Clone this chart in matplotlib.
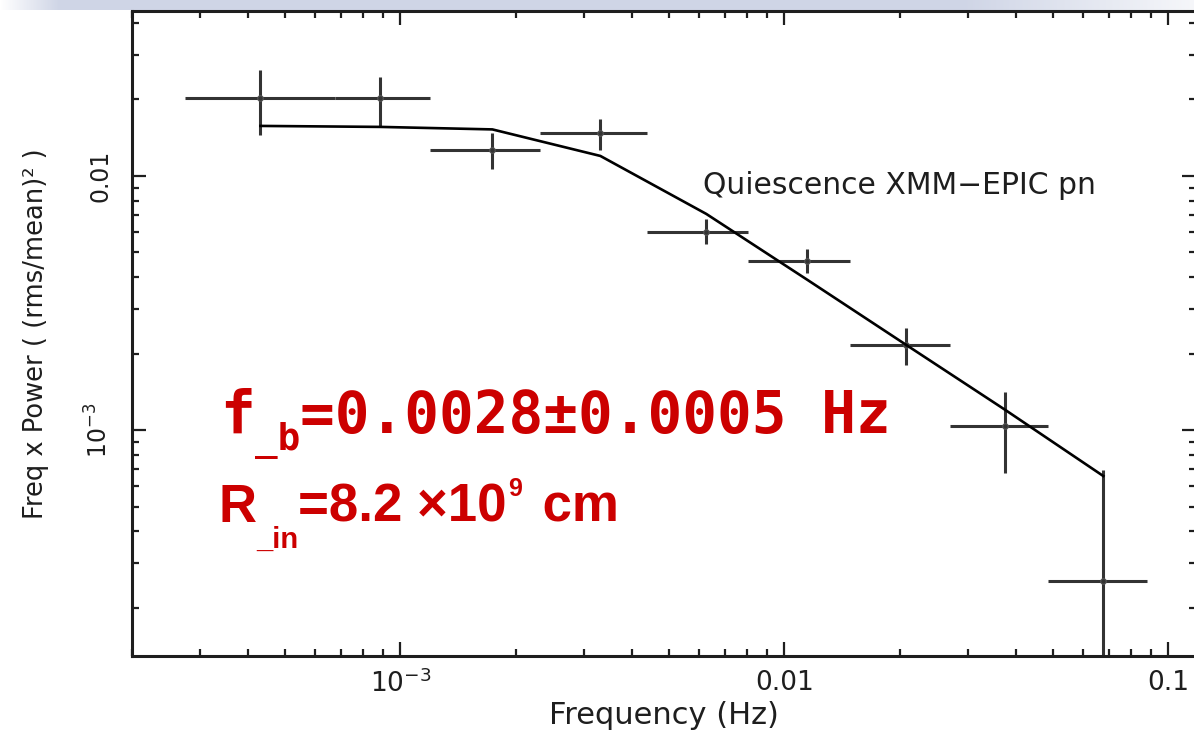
import numpy as np
import matplotlib.pyplot as plt
from matplotlib.colors import LinearSegmentedColormap
from matplotlib.ticker import LogLocator, NullFormatter

# binned power spectrum (freq x power), quiescent state
freq = [4.32e-4, 8.87e-4, 1.736e-3, 3.317e-3, 6.26e-3, 0.01148, 0.02078, 0.03763, 0.0677]
freq_lo = [2.755e-4, 6.77e-4, 1.197e-3, 2.315e-3, 4.40e-3, 8.06e-3, 0.01485, 0.02705, 0.0487]
freq_hi = [6.77e-4, 1.197e-3, 2.315e-3, 4.40e-3, 8.06e-3, 0.01485, 0.02705, 0.0487, 0.0882]
power = [0.02028, 0.02028, 0.01266, 0.01477, 6.03e-3, 4.64e-3, 2.161e-3, 1.04e-3, 2.544e-4]
power_lo = [0.0145, 0.0156, 0.01065, 0.01266, 5.40e-3, 4.15e-3, 1.803e-3, 6.77e-4, 1e-5]
power_hi = [0.02615, 0.02454, 0.01477, 0.01676, 6.77e-3, 5.16e-3, 2.52e-3, 1.411e-3, 6.96e-4]
# broken power law model evaluated at the bin centres
model = [0.01574, 0.0156, 0.01525, 0.01199, 7.09e-3, 3.90e-3, 2.161e-3, 1.199e-3, 6.59e-4]

xtick_vals = [1e-3, 1e-2, 1e-1]
xtick_labels = [r'$10^{-3}$', '0.01', '0.1']
ytick_vals = [1e-3, 1e-2]
ytick_labels = [r'$10^{-3}$', '0.01']

plt.rcParams['font.family'] = ['DejaVu Sans']
plt.rcParams['mathtext.fontset'] = 'dejavusans'
ink = '#1e1e1e'
red = '#cc0000'

fig = plt.figure(figsize=(11.94, 7.32), dpi=100)

# pale band along the top edge
band = fig.add_axes([0, 0.987, 1, 0.013])
grad = np.concatenate([np.linspace(0, 1, 60), np.ones(900), np.linspace(1, 0.2, 234)])
pale = LinearSegmentedColormap.from_list('pale', ['#ffffff', '#cfd5e6'])
band.imshow(grad[None, :], aspect='auto', cmap=pale, vmin=0, vmax=1, extent=[0, 1, 0, 1])
band.axis('off')

ax = fig.add_axes([132 / 1194, 1 - 656 / 732, 1064 / 1194, 645 / 732])
ax.set_xscale('log')
ax.set_yscale('log')

f = np.array(freq)
p = np.array(power)
xerr = [f - np.array(freq_lo), np.array(freq_hi) - f]
yerr = [p - np.array(power_lo), np.array(power_hi) - p]
ax.errorbar(f, p, xerr=xerr, yerr=yerr, fmt='o', ms=4, mfc='none', mec='#555555',
            mew=0.8, ecolor='#333333', elinewidth=2.2, capsize=0, zorder=2)
ax.plot(f, model, color='black', lw=1.9, zorder=3)

ax.set_xlim(2.0e-4, 0.118)
ax.set_ylim(1.29e-4, 0.0446)

ax.set_xticks(xtick_vals, xtick_labels)
ax.set_yticks(ytick_vals, ytick_labels, rotation=90, va='center')
ax.xaxis.set_minor_locator(LogLocator(base=10, subs=np.arange(2, 10)))
ax.yaxis.set_minor_locator(LogLocator(base=10, subs=np.arange(2, 10)))
ax.xaxis.set_minor_formatter(NullFormatter())
ax.yaxis.set_minor_formatter(NullFormatter())
ax.tick_params(which='both', direction='in', top=True, right=True, width=1.6, color=ink)
ax.tick_params(which='major', length=10)
ax.tick_params(which='minor', length=5)
ax.tick_params(axis='x', labelsize=19, pad=10, labelcolor=ink)
ax.tick_params(axis='y', labelsize=17, pad=14, labelcolor=ink)
for s in ax.spines.values():
    s.set_linewidth(2.2)
    s.set_color(ink)

ax.set_xlabel('Frequency (Hz)', fontsize=22, color=ink, labelpad=2)
ax.set_ylabel('Freq x Power ( (rms/mean)² )', fontsize=18.5, color=ink, labelpad=26)

ax.text(0.537, 0.729, 'Quiescence XMM\u2212EPIC pn', transform=ax.transAxes,
        fontsize=21.5, color=ink, ha='left', va='center')

# break frequency and inner radius, built piece by piece for the sub/superscripts
mono = dict(family='DejaVu Sans Mono', weight='bold', color=red)
t_f = ax.text(0.083, 0.3457, 'f', transform=ax.transAxes, fontsize=41.5, va='baseline', **mono)
t_b = ax.annotate('_b', xy=(1, 0), xycoords=t_f, xytext=(0, -10), textcoords='offset points',
                  fontsize=27, va='bottom', **mono)
ax.annotate('=0.0028\u00b10.0005 Hz', xy=(1, 0), xycoords=(t_b, t_f), fontsize=41.5,
            va='bottom', **mono)

sans = dict(family='Liberation Sans', weight='bold', color=red)
t_r = ax.text(0.081, 0.2078, 'R', transform=ax.transAxes, fontsize=38, va='baseline', **sans)
t_in = ax.annotate('_in', xy=(1, 0), xycoords=t_r, xytext=(0, -14.7), textcoords='offset points',
                   fontsize=21, va='bottom', **sans)
t_mid = ax.annotate('=8.2 \u00d710', xy=(1, 0), xycoords=(t_in, t_r), fontsize=38,
                    va='bottom', **sans)
t_exp = ax.annotate('9', xy=(1, 0), xycoords=(t_mid, t_r), xytext=(1, 23), textcoords='offset points',
                    fontsize=18, va='bottom', **sans)
ax.annotate(' cm', xy=(1, 0), xycoords=(t_exp, t_r), xytext=(4, 0), textcoords='offset points',
            fontsize=38, va='bottom', **sans)

fig.savefig('out.png', dpi=100)
